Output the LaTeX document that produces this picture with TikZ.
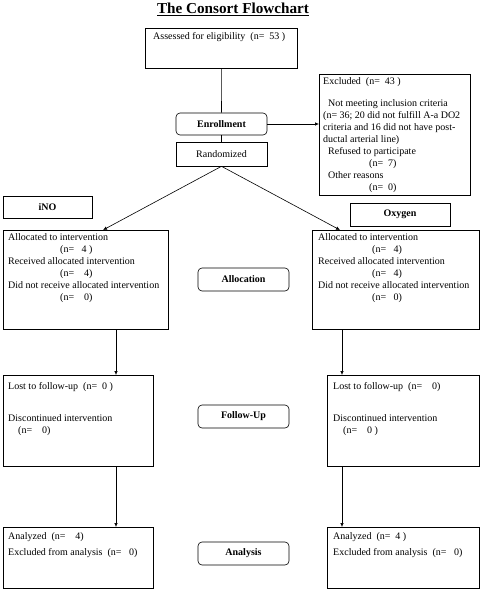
\documentclass[tikz,border=0pt]{standalone}
\usepackage{fontspec}
\setmainfont{Liberation Serif}
\usetikzlibrary{arrows.meta,calc}
\newcommand{\fs}{\fontsize{10}{12.1}\selectfont}
\tikzset{
  box/.style={draw, line width=0.6pt, inner sep=0pt, anchor=north west},
  lbl/.style={draw, line width=0.6pt, inner sep=0pt, font=\fs\bfseries},
  rlbl/.style={lbl, rounded corners=4pt},
  txt/.style={anchor=north west, align=left, inner sep=0pt, font=\fs},
  conn/.style={line width=0.6pt},
  arr/.style={line width=0.6pt, -{Latex[length=4pt,width=3.5pt]}}
}
\begin{document}
\begin{tikzpicture}[x=1pt,y=-1pt]
\useasboundingbox (0,0) rectangle (481,589);
% title
\node[font=\fontsize{15.2}{17}\selectfont\bfseries, inner sep=0pt] (title) at (233,9) {\underline{The Consort Flowchart}};
% boxes
\node[box, minimum width=152pt, minimum height=40pt] (assess) at (145,28) {};
\node[txt] (assesst) at ($(assess.north west)+(8,4)$) {Assessed for eligibility~~(n=~~53~)};
\node[rlbl, minimum width=91pt, minimum height=22pt] (enroll) at (221.5,124) {Enrollment};
\node[lbl, font=\fs, minimum width=91pt, minimum height=24pt] (rand) at (221.5,154) {Randomized};
\node[box, minimum width=151pt, minimum height=121pt] (excl) at (319,74) {};
\node[txt] (exclt) at ($(excl.north west)+(4,3)$) {Excluded~~(n=~~43~)\\[10pt]
~~Not meeting inclusion criteria\\
(n=~36; 20 did not fulfill A-a DO2\\
criteria and 16 did not have post-\\
ductal arterial line)\\
~~Refused to participate\\
\hspace{46pt}(n=~~7)\\
~~Other reasons\\
\hspace{46pt}(n=~~0)};
\node[lbl, minimum width=89pt, minimum height=22pt] (ino) at (47.5,207) {iNO};
\node[lbl, minimum width=100pt, minimum height=23pt] (oxy) at (400,214.5) {Oxygen};
% allocation
\node[box, minimum width=165pt, minimum height=99pt] (allocL) at (3,230) {};
\node[txt] (allocLt) at ($(allocL.north west)+(5,3)$) {Allocated to intervention\\
\hspace{52pt}(n=~~~4~)\\
Received allocated intervention\\
\hspace{52pt}(n=~~~~4)\\
Did not receive allocated intervention\\
\hspace{52pt}(n=~~~~0)};
\node[box, minimum width=167pt, minimum height=99pt] (allocR) at (312,230) {};
\node[txt] (allocRt) at ($(allocR.north west)+(6,3)$) {Allocated to intervention\\
\hspace{54pt}(n=~~~4)\\
Received allocated intervention\\
\hspace{54pt}(n=~~~4)\\
Did not receive allocated intervention\\
\hspace{54pt}(n=~~~0)};
\node[rlbl, minimum width=91pt, minimum height=23pt] (allocn) at (243.5,279.5) {Allocation};
% follow-up
\node[box, minimum width=150pt, minimum height=91pt] (lostL) at (3,375) {};
\node[txt] (lostLt) at ($(lostL.north west)+(5,7)$) {Lost to follow-up~~(n=~~0~)\\[20pt]
Discontinued intervention\\
\hspace{10pt}(n=~~~~0)};
\node[box, minimum width=152pt, minimum height=91pt] (lostR) at (327,375) {};
\node[txt] (lostRt) at ($(lostR.north west)+(6,7)$) {Lost to follow-up~~(n=~~~~0)\\[20pt]
Discontinued intervention\\
\hspace{10pt}(n=~~~~0~)};
\node[rlbl, minimum width=91pt, minimum height=23pt] (follow) at (243.5,416.5) {Follow-Up};
% analysis
\node[box, minimum width=150pt, minimum height=61pt] (anaL) at (3,527) {};
\node[txt] (anaLt) at ($(anaL.north west)+(5,5)$) {Analyzed~~(n=~~~~4)\\[4pt]
Excluded from analysis~~(n=~~~0)};
\node[box, minimum width=152pt, minimum height=61pt] (anaR) at (327,527) {};
\node[txt] (anaRt) at ($(anaR.north west)+(6,5)$) {Analyzed~~(n=~~4~)\\[4pt]
Excluded from analysis~~(n=~~~0)};
\node[rlbl, minimum width=91pt, minimum height=23pt] (analysis) at (243.5,553.5) {Analysis};
% connectors
\coordinate (tL) at ([xshift=100pt]allocL.north west);
\coordinate (tR) at ([xshift=28pt]allocR.north west);
\coordinate (vL) at ([xshift=113pt]allocL.south west);
\coordinate (vR) at ([xshift=30pt]allocR.south west);
\draw[conn] (assess.south) -- (enroll.north);
\draw[conn] (enroll.south) -- (rand.north);
\draw[arr] (enroll.east) -- (enroll.east -| excl.west);
\draw[arr] (rand.south) -- (tL);
\draw[arr] (rand.south) -- (tR);
\draw[arr] (vL) -- (vL |- lostL.north);
\draw[arr] (vR) -- (vR |- lostR.north);
\draw[arr] (vL |- lostL.south) -- (vL |- anaL.north);
\draw[arr] (vR |- lostR.south) -- (vR |- anaR.north);
\end{tikzpicture}
\end{document}
